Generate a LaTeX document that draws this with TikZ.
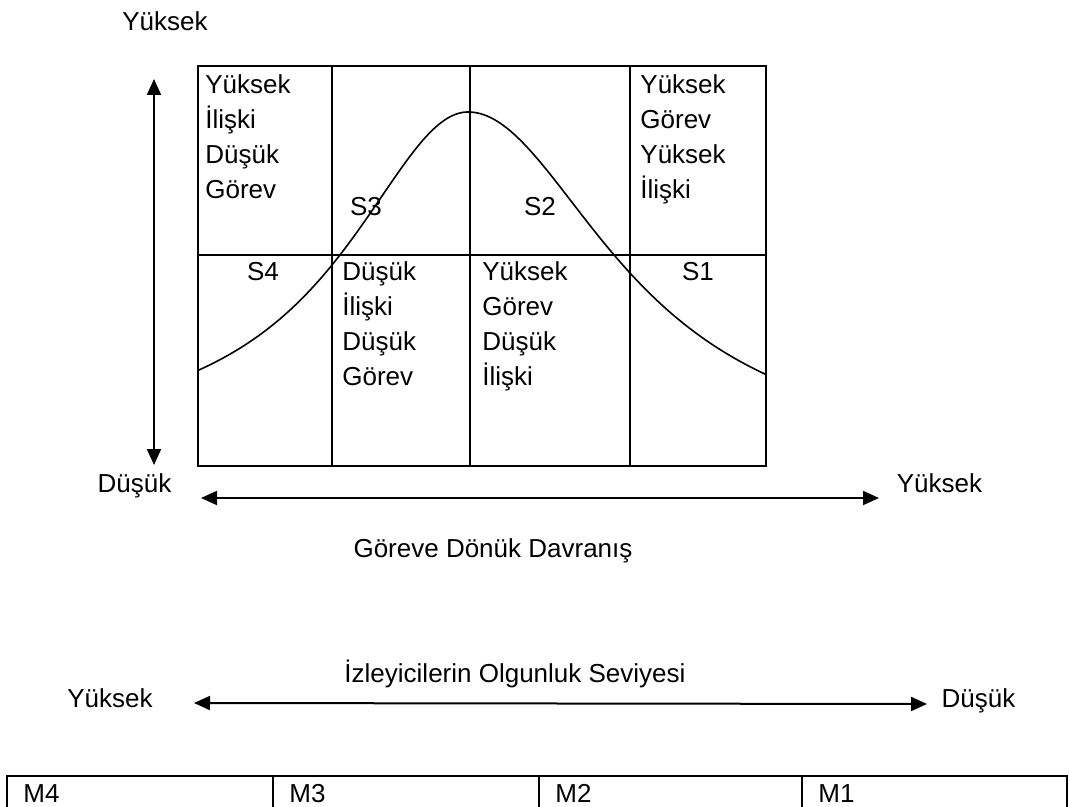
\documentclass[tikz,border=0pt]{standalone}
\usepackage{fontspec}
\setmainfont{Liberation Sans}
\usetikzlibrary{arrows.meta}
\begin{document}
\begin{tikzpicture}[x=0.5pt,y=-0.5pt,
  lbl/.style={inner sep=0pt, font=\fontsize{13}{17.5}\selectfont},
  frame/.style={line width=1pt},
  axis/.style={line width=1pt, {Triangle[length=8pt,width=7pt]}-{Triangle[length=8pt,width=7pt]}},
  bell/.style={line width=0.8pt}]
\useasboundingbox (0,0) rectangle (1070,807);

% grid
\draw[frame] (198,66) rectangle (766,466);
\draw[frame] (198,255) -- (766,255);
\draw[frame] (332,66) -- (332,466);
\draw[frame] (470,66) -- (470,466);
\draw[frame] (630,66) -- (630,466);

% bell curve
\draw[bell] plot[domain=198:468, samples=120] (\x, {112 + 337.5*((468-\x)/100)^2/(((468-\x)/100)^2 + 2.2307)})
  -- plot[domain=468:766, samples=120] (\x, {112 + 357*((\x-468)/100)^2/(((\x-468)/100)^2 + 3.1945)});

% cell texts
\node[lbl, anchor=base west] (tl) at (205,94) {\begin{tabular}[t]{@{}l@{}}Yüksek\\İlişki\\Düşük\\Görev\end{tabular}};
\node[lbl, anchor=base west] (tr) at (640,94) {\begin{tabular}[t]{@{}l@{}}Yüksek\\Görev\\Yüksek\\İlişki\end{tabular}};
\node[lbl, anchor=base west] (bl2) at (342,281) {\begin{tabular}[t]{@{}l@{}}Düşük\\İlişki\\Düşük\\Görev\end{tabular}};
\node[lbl, anchor=base west] (bl3) at (482,281) {\begin{tabular}[t]{@{}l@{}}Yüksek\\Görev\\Düşük\\İlişki\end{tabular}};
\node[lbl, anchor=base] (s3) at (366,216) {S3};
\node[lbl, anchor=base] (s2) at (540,216) {S2};
\node[lbl, anchor=base] (s4) at (263,281) {S4};
\node[lbl, anchor=base] (s1) at (698,281) {S1};

% vertical axis
\node[lbl, anchor=base] (ytop) at (165,31) {Yüksek};
\coordinate (va) at (154,79);
\coordinate (vb) at (154,465);
\draw[axis] (va) -- (vb);

% horizontal axis
\node[lbl, anchor=base] (xlo) at (134.5,492) {Düşük};
\node[lbl, anchor=base] (xhi) at (939.5,492) {Yüksek};
\coordinate (ha) at (201,498);
\coordinate (hb) at (879,498);
\draw[axis] (ha) -- (hb);
\node[lbl, anchor=base] (xtitle) at (493,557) {Göreve Dönük Davranış};

% maturity axis
\node[lbl, anchor=base] (mtitle) at (515,682) {İzleyicilerin Olgunluk Seviyesi};
\node[lbl, anchor=base] (mhi) at (110,707) {Yüksek};
\node[lbl, anchor=base] (mlo) at (978.5,707) {Düşük};
\coordinate (ma) at (194,703);
\coordinate (mb) at (927,704);
\draw[axis] (ma) -- (mb);

% maturity table
\begin{scope}
\clip (0,0) rectangle (1070,807);
\draw[frame] (7,815) -- (7,776) -- (1067,776) -- (1067,815);
\draw[frame] (273,776) -- (273,815);
\draw[frame] (539,776) -- (539,815);
\draw[frame] (802,776) -- (802,815);
\end{scope}
\node[lbl, anchor=base west] (m4) at (23,802) {M4};
\node[lbl, anchor=base west] (m3) at (289,802) {M3};
\node[lbl, anchor=base west] (m2) at (555,802) {M2};
\node[lbl, anchor=base west] (m1) at (818,802) {M1};
\end{tikzpicture}
\end{document}
